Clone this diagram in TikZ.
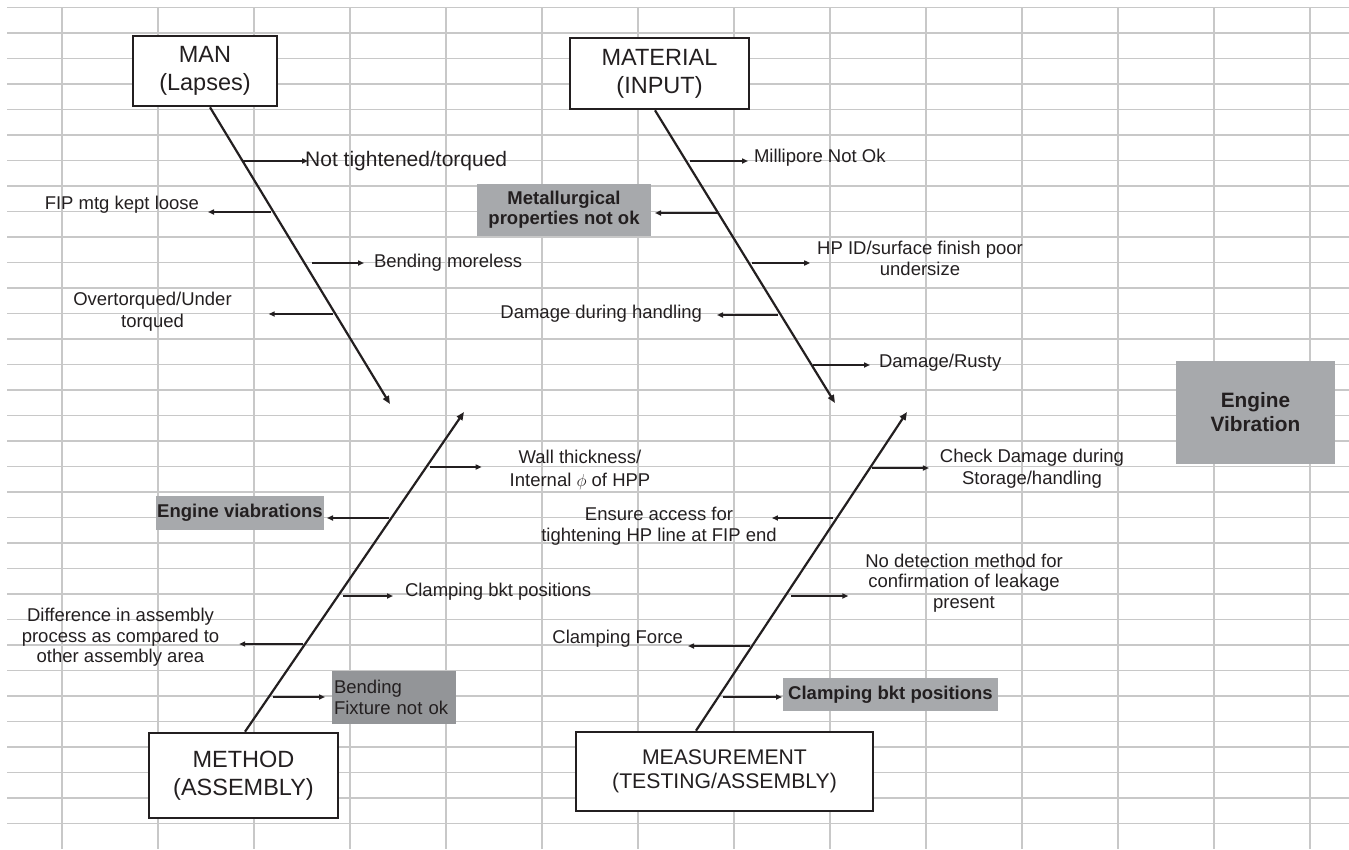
\documentclass[tikz,border=0pt]{standalone}
\usepackage{fontspec}
\setmainfont{Liberation Sans}
\usetikzlibrary{arrows.meta,calc}
\definecolor{gridc}{RGB}{200,200,200}
\definecolor{ink}{RGB}{35,31,32}
\definecolor{boxgray}{RGB}{167,169,172}
\definecolor{boxdark}{RGB}{147,149,152}
\begin{document}
\begin{tikzpicture}[x=1pt,y=-1pt,
  every node/.style={text=ink},
  lab/.style={inner sep=0pt, align=center, font=\fontsize{18.5}{21}\selectfont},
  big/.style={inner sep=0pt, font=\fontsize{21}{24}\selectfont},
  headbox/.style={draw=ink, line width=2.6pt, fill=white, align=center, inner sep=0pt, font=\fontsize{23.5}{28}\selectfont},
  graybox/.style={fill=boxgray, inner sep=0pt, align=center, font=\bfseries\fontsize{18.5}{20}\selectfont},
  spine/.style={draw=ink, line width=2.2pt, -{Triangle[length=8pt,width=6.5pt]}},
  branch/.style={draw=ink, line width=2pt, -{Triangle[length=6pt,width=5pt]}},
  gridline/.style={draw=gridc, line width=1.2pt}]
\useasboundingbox (0,0) rectangle (1349,849);
% grid
\foreach \k in {0,...,32} \draw[gridline] (7,{7.5+25.5*\k}) -- (1349,{7.5+25.5*\k});
\foreach \k in {0,...,13} \draw[gridline] ({62+96*\k},7.5) -- ({62+96*\k},849);

% category boxes
\node[headbox, minimum width=144pt, minimum height=70pt] (man) at (205,71) {MAN\\(Lapses)};
\node[headbox, minimum width=179pt, minimum height=71pt] (mat) at (659.5,73.5) {MATERIAL\\(INPUT)};
\node[headbox, minimum width=189pt, minimum height=85pt] (meth) at (243.5,775.5) {METHOD\\(ASSEMBLY)};
\node[headbox, minimum width=297pt, minimum height=79pt, font=\fontsize{21.2}{24}\selectfont] (meas) at (724.5,771.5) {MEASUREMENT\\(TESTING/ASSEMBLY)};
\node[graybox, minimum width=159pt, minimum height=103pt, font=\bfseries\fontsize{20.8}{24}\selectfont] (ev) at (1255.5,412.5) {Engine\\Vibration};

% spines
\coordinate (mantip) at (390,404);
\coordinate (mattip) at (835,403);
\coordinate (mettip) at (464,412);
\coordinate (meatip) at (907,412);
\draw[spine] ([xshift=5pt]man.south) -- (mantip);
\draw[spine] ([xshift=-4.5pt]mat.south) -- (mattip);
\draw[spine] ([xshift=1.5pt]meth.north) -- (mettip);
\draw[spine] ([xshift=-28.5pt]meas.north) -- (meatip);

% MAN causes
\node[big, anchor=west] (nt) at (305,161) {Not tightened/torqued};
\coordinate (m1) at (243,161);
\draw[branch] (m1) -- ($(m1 -| nt.west)+(3,0)$);
\node[lab, anchor=east, outer xsep=9pt] (fip) at (208,205) {FIP mtg kept loose};
\coordinate (m2) at (271,212);
\draw[branch] (m2) -- (m2 -| fip.east);
\node[lab, anchor=west, outer xsep=10pt] (bm) at (364,263) {Bending moreless};
\coordinate (m3) at (312,263);
\draw[branch] (m3) -- (m3 -| bm.west);
\node[lab, outer xsep=37pt, font=\fontsize{18.5}{22}\selectfont] (ot) at (152.5,311.5) {Overtorqued/Under\\torqued};
\coordinate (m4) at (333,314);
\draw[branch] (m4) -- (m4 -| ot.east);

% MATERIAL causes
\node[lab, anchor=west, outer xsep=6pt] (mil) at (748,158) {Millipore Not Ok};
\coordinate (t1) at (690,161);
\draw[branch] (t1) -- (t1 -| mil.west);
\node[graybox, minimum width=174pt, minimum height=52pt, outer xsep=4pt] (metl) at (564,210) {Metallurgical\\properties not ok};
\coordinate (t2) at (718,213);
\draw[branch] (t2) -- (t2 -| metl.east);
\node[lab, outer xsep=7pt] (hp) at (920,258.5) {HP ID/surface finish poor\\undersize};
\coordinate (t3) at (752,263);
\draw[branch] (t3) -- (t3 -| hp.west);
\node[lab, anchor=east, outer xsep=15pt] (ddh) at (717,314) {Damage during handling};
\coordinate (t4) at (778,315);
\draw[branch] (t4) -- (t4 -| ddh.east);
\node[lab, anchor=west, outer xsep=9pt] (dr) at (870,363) {Damage/Rusty};
\coordinate (t5) at (813,365);
\draw[branch] (t5) -- (t5 -| dr.west);

% METHOD causes
\node[lab, outer xsep=28pt, font=\fontsize{18.5}{23}\selectfont] (wt) at (580,470) {Wall thickness/\\Internal $\phi$ of HPP};
\coordinate (h1) at (430,467);
\draw[branch] (h1) -- (h1 -| wt.west);
\node[graybox, minimum width=168pt, minimum height=34pt, outer xsep=3pt] (evb) at (240,513) {Engine viabrations};
\coordinate (h2) at (389,518);
\draw[branch] (h2) -- (h2 -| evb.east);
\node[lab, anchor=west, outer xsep=12pt] (cbp) at (393,592) {Clamping bkt positions};
\coordinate (h3) at (343,596);
\draw[branch] (h3) -- (h3 -| cbp.west);
\node[lab, outer xsep=20pt, font=\fontsize{18.5}{20.5}\selectfont] (dif) at (120.5,637.5) {Difference in assembly\\process as compared to\\other assembly area};
\coordinate (h4) at (303,644);
\draw[branch] (h4) -- (h4 -| dif.east);
\node[fill=boxdark, minimum height=53pt, text width=120pt, inner xsep=2pt, inner ysep=0pt, align=left, outer xsep=7pt, font=\fontsize{18.5}{21}\selectfont] (bf) at (394,697.5) {Bending\\Fixture not ok};
\coordinate (h5) at (273,697);
\draw[branch] (h5) -- (h5 -| bf.west);

% MEASUREMENT causes
\node[lab, outer xsep=11pt, font=\fontsize{18.5}{22}\selectfont] (cd) at (1032,469) {Check Damage during\\Storage/handling};
\coordinate (q1) at (872,468);
\draw[branch] (q1) -- (q1 -| cd.west);
\node[lab] (ea) at (659,526.5) {Ensure access for\\tightening HP line at FIP end};
\coordinate (q2) at (833,518);
\draw[branch] (q2) -- ($(q2 -| ea.east)+(-5,0)$);
\node[lab, outer xsep=17pt, font=\fontsize{18.5}{20.5}\selectfont] (nd) at (964,583) {No detection method for\\confirmation of leakage\\present};
\coordinate (q3) at (791,596);
\draw[branch] (q3) -- (q3 -| nd.west);
\node[lab, anchor=east, outer xsep=5pt] (cf) at (688,639) {Clamping Force};
\coordinate (q4) at (750,646);
\draw[branch] (q4) -- (q4 -| cf.east);
\node[graybox, minimum width=215pt, minimum height=33pt, outer xsep=1pt] (cb2) at (890.5,694.5) {Clamping bkt positions};
\coordinate (q5) at (723,697);
\draw[branch] (q5) -- (q5 -| cb2.west);
\end{tikzpicture}
\end{document}
